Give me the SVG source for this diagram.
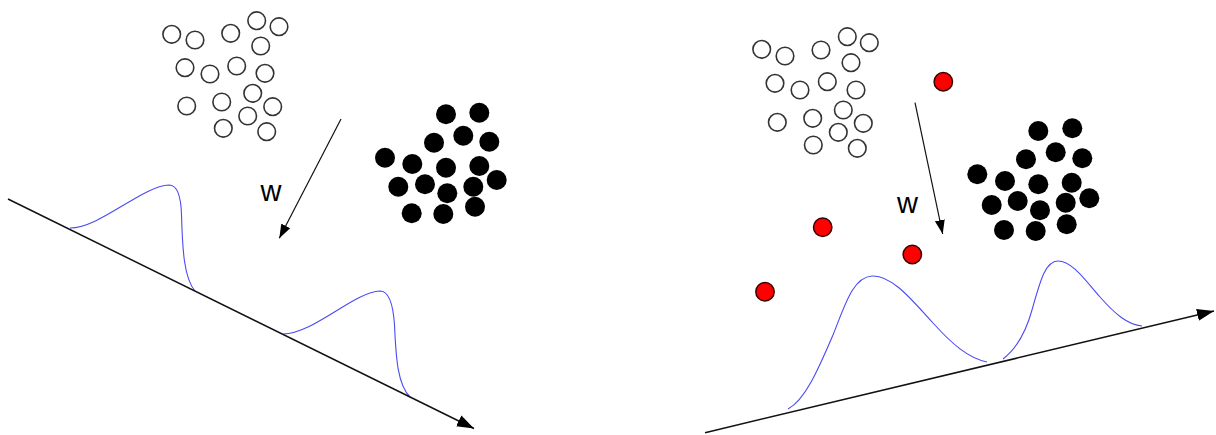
<svg xmlns="http://www.w3.org/2000/svg" width="1216" height="435" viewBox="0 0 1216 435">
<style>
.wc{fill:#fff;stroke:#333;stroke-width:1.6}
.bc{fill:#000}
.rc{fill:#f00;stroke:#3a0000;stroke-width:1.5}
.curve{fill:none;stroke:#4a4af5;stroke-width:1.1}
.axis{fill:none;stroke:#111;stroke-width:1.5}
.warr{fill:none;stroke:#111;stroke-width:1.2}
.lbl{font-family:"Liberation Sans",Arial,sans-serif;font-size:29px;fill:#000}
</style>
<defs>
<marker id="ah" markerUnits="userSpaceOnUse" markerWidth="18" markerHeight="14" refX="17" refY="6" orient="auto" viewBox="0 0 18 12">
<path d="M0,0 L17,6 L0,12 z" fill="#000"/>
</marker>
<marker id="ahs" markerUnits="userSpaceOnUse" markerWidth="14" markerHeight="11" refX="14" refY="5" orient="auto" viewBox="0 0 14 10">
<path d="M0,0 L14,5 L0,10 z" fill="#000"/>
</marker>
</defs>
<rect width="1216" height="435" fill="#fff"/>

<g id="left-white-cluster">
<circle class="wc" cx="171.7" cy="34.3" r="8.8"/>
<circle class="wc" cx="195" cy="40" r="8.8"/>
<circle class="wc" cx="230.7" cy="33.3" r="8.8"/>
<circle class="wc" cx="256.7" cy="20.7" r="8.8"/>
<circle class="wc" cx="279" cy="26.7" r="8.8"/>
<circle class="wc" cx="260.7" cy="46" r="8.8"/>
<circle class="wc" cx="185" cy="67.7" r="8.8"/>
<circle class="wc" cx="210" cy="74" r="8.8"/>
<circle class="wc" cx="236.7" cy="66" r="8.8"/>
<circle class="wc" cx="265" cy="73.3" r="8.8"/>
<circle class="wc" cx="186.7" cy="106" r="8.8"/>
<circle class="wc" cx="221.7" cy="102" r="8.8"/>
<circle class="wc" cx="252.7" cy="93.3" r="8.8"/>
<circle class="wc" cx="272.7" cy="106.7" r="8.8"/>
<circle class="wc" cx="247.7" cy="116" r="8.8"/>
<circle class="wc" cx="223.3" cy="128.3" r="8.8"/>
<circle class="wc" cx="266.7" cy="131.7" r="8.8"/>
</g>

<g id="left-black-cluster">
<circle class="bc" cx="446" cy="114.3" r="10"/>
<circle class="bc" cx="479.3" cy="112.7" r="10"/>
<circle class="bc" cx="434" cy="142.7" r="10"/>
<circle class="bc" cx="463.3" cy="135.7" r="10"/>
<circle class="bc" cx="489.3" cy="141.7" r="10"/>
<circle class="bc" cx="385" cy="157.7" r="10"/>
<circle class="bc" cx="412.3" cy="164" r="10"/>
<circle class="bc" cx="446" cy="167.7" r="10"/>
<circle class="bc" cx="479.3" cy="166" r="10"/>
<circle class="bc" cx="496.7" cy="180" r="10"/>
<circle class="bc" cx="398.3" cy="186.7" r="10"/>
<circle class="bc" cx="425" cy="184.3" r="10"/>
<circle class="bc" cx="447.3" cy="193.3" r="10"/>
<circle class="bc" cx="473.3" cy="186.7" r="10"/>
<circle class="bc" cx="411.7" cy="213.3" r="10"/>
<circle class="bc" cx="443.3" cy="214" r="10"/>
<circle class="bc" cx="475" cy="206.7" r="10"/>
</g>

<g id="right-white-cluster">
<circle class="wc" cx="761.7" cy="49.3" r="8.8"/>
<circle class="wc" cx="785" cy="56" r="8.8"/>
<circle class="wc" cx="821" cy="50" r="8.8"/>
<circle class="wc" cx="847.3" cy="36.7" r="8.8"/>
<circle class="wc" cx="869.3" cy="42.7" r="8.8"/>
<circle class="wc" cx="851" cy="62.7" r="8.8"/>
<circle class="wc" cx="775" cy="83.3" r="8.8"/>
<circle class="wc" cx="800" cy="90" r="8.8"/>
<circle class="wc" cx="827.3" cy="81.7" r="8.8"/>
<circle class="wc" cx="856" cy="90" r="8.8"/>
<circle class="wc" cx="777.3" cy="122.3" r="8.8"/>
<circle class="wc" cx="812.7" cy="118.3" r="8.8"/>
<circle class="wc" cx="843.3" cy="110" r="8.8"/>
<circle class="wc" cx="863.3" cy="123.3" r="8.8"/>
<circle class="wc" cx="838.3" cy="132.3" r="8.8"/>
<circle class="wc" cx="813.3" cy="145" r="8.8"/>
<circle class="wc" cx="857.3" cy="148.3" r="8.8"/>
</g>

<g id="right-black-cluster">
<circle class="bc" cx="1038.3" cy="131" r="10"/>
<circle class="bc" cx="1072.3" cy="128.3" r="10"/>
<circle class="bc" cx="1026" cy="159.3" r="10"/>
<circle class="bc" cx="1055.7" cy="152.3" r="10"/>
<circle class="bc" cx="1082.3" cy="158.3" r="10"/>
<circle class="bc" cx="977.3" cy="174.3" r="10"/>
<circle class="bc" cx="1005" cy="181" r="10"/>
<circle class="bc" cx="1038.3" cy="184.3" r="10"/>
<circle class="bc" cx="1071.7" cy="182.7" r="10"/>
<circle class="bc" cx="1089.3" cy="198.3" r="10"/>
<circle class="bc" cx="991.7" cy="205" r="10"/>
<circle class="bc" cx="1017.7" cy="201" r="10"/>
<circle class="bc" cx="1040" cy="210.3" r="10"/>
<circle class="bc" cx="1065.7" cy="202.7" r="10"/>
<circle class="bc" cx="1004" cy="230" r="10"/>
<circle class="bc" cx="1035.7" cy="231" r="10"/>
<circle class="bc" cx="1066.7" cy="224.3" r="10"/>
</g>

<g id="red-points">
<circle class="rc" cx="943.3" cy="81.7" r="9.2"/>
<circle class="rc" cx="822.7" cy="227.3" r="9.2"/>
<circle class="rc" cx="912.3" cy="254.5" r="9.2"/>
<circle class="rc" cx="765" cy="291.7" r="9.2"/>
</g>

<g id="distributions">
<path class="curve" d="M70,228 C100,228 142,186 169,185 C177,185 181,196 181.5,215 C182.5,250 184,278 195,291"/>
<path class="curve" d="M283,334 C313,334 354,292 380,291 C388,291 393,302 394.5,325 C396,360 398,385 410,397"/>
<path class="curve" d="M788,409 C805,400 818,370 833,335 C845,305 853,277 872,276 C892,275 912,300 933,323 C952,344 968,358 987,362"/>
<path class="curve" d="M1003,359 C1015,350 1025,335 1032,310 C1040,282 1045,261 1058,261 C1072,261 1085,280 1100,297 C1115,314 1128,325 1142,326"/>
</g>

<g id="connectors">
<path class="axis" d="M8,199 L474,428.5" marker-end="url(#ah)"/>
<path class="axis" d="M705,432.7 L1214,311" marker-end="url(#ah)"/>
<path class="warr" d="M341,119 L279.3,238.3" marker-end="url(#ahs)"/>
<path class="warr" d="M915,102.7 L942.7,234" marker-end="url(#ahs)"/>
</g>

<g id="labels">
<text class="lbl" x="260.5" y="200.7">w</text>
<text class="lbl" x="897" y="213.3">w</text>
</g>
</svg>
